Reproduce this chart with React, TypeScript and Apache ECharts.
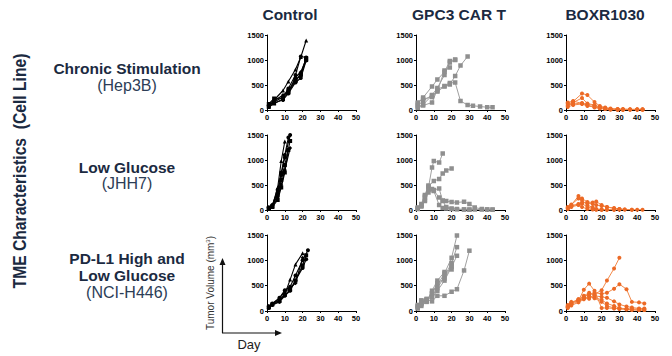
import React, { useEffect, useRef } from "react";
import * as echarts from "echarts";

// ---------- data: [day, tumor volume mm3] per mouse ----------
const hep3bControl = [
  [[1, 80], [4, 200], [9, 390], [12, 570], [16, 810], [19, 1060], [22, 1390]],
  [[1, 100], [4, 160], [9, 260], [12, 430], [16, 700], [19, 1070], [22, 1050]],
  [[1, 60], [4, 130], [9, 220], [12, 350], [16, 580], [19, 720], [22, 1040]],
  [[1, 90], [4, 180], [9, 300], [12, 370], [16, 650], [19, 760], [22, 1020]],
  [[1, 70], [4, 140], [9, 200], [12, 330], [16, 550], [19, 640], [22, 990]],
  [[1, 120], [4, 230], [9, 240], [12, 380], [16, 600], [19, 700], [22, 1000]],
];
const hep3bCart = [
  [[1, 130], [4, 250], [9, 470], [12, 610], [16, 760], [19, 980], [22, 1010]],
  [[1, 90], [4, 180], [9, 300], [12, 440], [16, 700], [19, 950], [22, 1000]],
  [[1, 60], [4, 110], [9, 290], [12, 370], [16, 470], [19, 510], [22, 680], [25, 890], [29, 1070]],
  [[1, 40], [4, 90], [9, 150], [12, 410], [16, 480], [19, 540], [22, 550], [25, 180], [29, 100], [32, 85], [36, 70], [40, 55], [43, 55]],
  [[1, 150], [4, 220], [9, 260], [12, 380], [16, 790], [19, 850]],
];
const hep3bBoxr = [
  [[1, 80], [4, 170], [9, 330], [12, 300], [16, 160], [19, 80], [22, 50], [25, 30], [29, 20], [32, 20], [36, 15], [40, 15], [43, 15]],
  [[1, 130], [4, 150], [9, 240], [12, 130], [16, 100], [19, 60], [22, 40], [25, 20], [29, 15], [32, 10], [36, 10], [40, 10], [43, 10]],
  [[1, 100], [4, 120], [9, 140], [12, 110], [16, 90], [19, 50], [22, 30], [25, 15], [29, 10], [32, 10], [36, 10], [40, 10], [43, 10]],
  [[1, 60], [4, 100], [9, 120], [12, 80], [16, 60], [19, 40], [22, 20], [25, 10], [29, 5], [32, 5], [36, 5], [40, 5], [43, 5]],
  [[1, 150], [4, 180], [9, 130], [12, 100], [16, 50], [19, 30], [22, 20], [25, 10], [29, 5], [32, 5]],
];
const jhh7Control = [
  [[1, 40], [3, 80], [6, 450], [8, 980], [10, 1370]],
  [[1, 50], [3, 90], [6, 350], [8, 700], [10, 1050], [13, 1500]],
  [[1, 40], [3, 70], [6, 300], [8, 600], [10, 900], [13, 1380]],
  [[1, 30], [3, 60], [6, 250], [8, 500], [10, 800], [13, 1240]],
  [[1, 50], [3, 100], [6, 400], [8, 750], [10, 1100], [12, 1450]],
  [[1, 30], [3, 60], [6, 200], [8, 450], [10, 750], [12, 1200]],
];
const jhh7Cart = [
  [[1, 30], [3, 80], [5, 200], [7, 450], [9, 850], [10, 980], [13, 950], [15, 1130]],
  [[1, 40], [3, 100], [5, 250], [7, 470], [10, 580], [13, 620], [15, 730], [17, 790], [20, 830]],
  [[1, 50], [3, 120], [5, 300], [7, 490], [10, 400], [13, 430], [15, 180], [17, 60], [20, 30], [23, 20], [27, 10], [30, 5]],
  [[1, 30], [3, 90], [5, 280], [7, 400], [10, 390], [13, 250], [15, 190], [17, 180], [20, 160], [23, 150], [27, 165], [30, 120], [33, 50], [37, 20], [40, 10], [43, 5]],
  [[1, 20], [3, 70], [5, 180], [7, 350], [9, 420], [10, 380], [13, 100], [15, 40], [17, 30], [20, 20], [23, 15], [27, 10], [30, 10], [33, 10], [37, 10], [40, 10], [43, 10]],
];
const jhh7Boxr = [
  [[1, 40], [3, 100], [7, 280], [9, 230], [12, 160], [15, 150], [17, 170], [20, 100], [23, 60], [27, 40], [30, 20], [33, 10], [37, 5], [40, 5], [43, 5]],
  [[1, 60], [3, 110], [7, 230], [9, 200], [12, 100], [15, 50], [17, 20], [20, 10], [23, 5], [27, 5], [30, 5]],
  [[1, 30], [3, 80], [7, 120], [9, 130], [12, 60], [15, 30], [17, 10], [20, 5], [23, 5], [27, 5]],
  [[1, 50], [3, 90], [7, 110], [9, 60], [12, 20], [15, 10], [17, 5], [20, 5]],
  [[1, 20], [3, 60], [7, 100], [9, 150], [12, 140], [15, 120], [17, 100], [20, 80], [23, 60], [27, 30], [30, 20], [33, 10], [37, 5]],
];
const h446Control = [
  [[1, 80], [3, 140], [7, 220], [10, 330], [13, 620], [16, 920], [20, 1140]],
  [[1, 90], [3, 150], [7, 260], [10, 410], [13, 480], [16, 700], [20, 1000], [23, 1200]],
  [[1, 70], [3, 130], [7, 200], [10, 320], [13, 420], [16, 600], [20, 900], [22, 1100]],
  [[1, 100], [3, 140], [7, 250], [10, 380], [13, 450], [16, 550], [20, 1050]],
  [[1, 60], [3, 120], [7, 180], [10, 300], [13, 400], [16, 600], [20, 850], [22, 1020]],
];
const h446Cart = [
  [[1, 80], [3, 150], [6, 220], [9, 340], [12, 510], [16, 740], [20, 1050], [23, 1490]],
  [[1, 60], [3, 130], [6, 200], [9, 300], [12, 450], [16, 680], [20, 950], [23, 1260]],
  [[1, 100], [3, 200], [6, 240], [9, 270], [12, 400], [16, 600], [20, 870], [23, 1090]],
  [[1, 120], [3, 210], [6, 230], [9, 190], [12, 300], [16, 300], [20, 380], [23, 430], [27, 800], [30, 1190]],
  [[1, 50], [3, 100], [6, 180], [9, 400], [12, 600], [16, 770], [20, 820]],
  [[1, 90], [3, 170], [6, 210], [9, 350], [12, 550], [16, 640], [20, 900]],
];
const h446Boxr = [
  [[1, 80], [3, 130], [7, 200], [10, 250], [13, 240], [16, 330], [20, 410], [23, 600], [27, 840], [30, 1050]],
  [[1, 60], [3, 150], [7, 230], [10, 280], [13, 330], [16, 360], [20, 340], [23, 360], [27, 440], [30, 530], [34, 430], [37, 180], [41, 170], [44, 150]],
  [[1, 100], [3, 170], [7, 200], [10, 420], [13, 540], [16, 400], [20, 60], [23, 60], [27, 50], [30, 50], [34, 40], [37, 40], [41, 40], [44, 40]],
  [[1, 90], [3, 160], [7, 230], [10, 300], [13, 360], [16, 300], [20, 280], [23, 260], [27, 190], [30, 130], [34, 90], [37, 70], [41, 50], [44, 50]],
  [[1, 120], [3, 180], [7, 210], [10, 260], [13, 280], [16, 270], [20, 220], [23, 150], [27, 100], [30, 60], [34, 40], [37, 30], [41, 20], [44, 20]],
  [[1, 70], [3, 110], [7, 170], [10, 230], [13, 300], [16, 250], [20, 180], [23, 100], [27, 60], [30, 40], [34, 30], [37, 20], [41, 20], [44, 20]],
];

const columnTitles = ["Control", "GPC3 CAR T", "BOXR1030"];
const rowTitles = [["Chronic Stimulation"], ["Low Glucose"], ["PD-L1 High and", "Low Glucose"]];
const rowSubtitles = ["(Hep3B)", "(JHH7)", "(NCI-H446)"];
const xTicks = { min: 0, max: 50, interval: 10 };
const yTicks = { min: 0, max: 1500, interval: 500 };

const panels = [
  [hep3bControl, hep3bCart, hep3bBoxr],
  [jhh7Control, jhh7Cart, jhh7Boxr],
  [h446Control, h446Cart, h446Boxr],
];

const NAVY = "#1b2a41";
const FONT = "'Liberation Sans', Arial, sans-serif";
const colLeft = [267, 416, 566];
const rowTop = [35, 135, 235];
const rowH = [75, 75, 76];
const PW = 89;
const controlSymbols = ["triangle", "circle", "rect", "diamond", "circle", "rect"];

const mkLabel = () => ({
  fontSize: 7.5, fontWeight: "bold", color: "#000", margin: 3, fontFamily: FONT,
  formatter: (v: number) => String(v),
});
const mkAxisCommon = () => ({
  axisLine: { show: true, onZero: false, lineStyle: { color: "#000", width: 1 } },
  axisTick: { show: true, length: 2, lineStyle: { color: "#000", width: 1 } },
  axisLabel: mkLabel(),
  splitLine: { show: false },
});

export default function App() {
  const ref = useRef<HTMLDivElement>(null);
  useEffect(() => {
    if (!ref.current) return;
    const chart = echarts.init(ref.current, null, { renderer: "svg" });
    const grid: any[] = [];
    const xAxis: any[] = [];
    const yAxis: any[] = [];
    const series: any[] = [];
    let gi = 0;
    for (let r = 0; r < 3; r++) {
      for (let c = 0; c < 3; c++) {
        grid.push({ left: colLeft[c], top: rowTop[r], width: PW, height: rowH[r] });
        xAxis.push({ gridIndex: gi, type: "value", ...xTicks, ...mkAxisCommon() });
        yAxis.push({ gridIndex: gi, type: "value", ...yTicks, ...mkAxisCommon() });
        panels[r][c].forEach((mouse, mi) => {
          let lineColor = "#000", markColor = "#000", symbol = controlSymbols[mi % controlSymbols.length], size = 4, lw = 1.1;
          if (c === 1) { lineColor = "#a0a0a0"; markColor = "#8f8f8f"; symbol = "rect"; size = 4.5; lw = 1; }
          if (c === 2) { lineColor = "#f3894a"; markColor = "#ec6a26"; symbol = "circle"; size = 4; lw = 1; }
          series.push({
            type: "line", xAxisIndex: gi, yAxisIndex: gi, data: mouse, symbol, symbolSize: size,
            lineStyle: { color: lineColor, width: lw }, itemStyle: { color: markColor }, silent: true,
          });
        });
        gi++;
      }
    }
    const graphic: any[] = [];
    const titleX = [290, 459, 605];
    columnTitles.forEach((t, i) =>
      graphic.push({ type: "text", x: titleX[i], y: 14, style: { text: t, fill: NAVY, font: `bold 15.5px ${FONT}`, align: "center", verticalAlign: "middle" } })
    );
    const rowY = [[68], [167], [258, 275]];
    const subY = [85, 183, 292];
    rowTitles.forEach((lines, r) => {
      lines.forEach((ln, k) =>
        graphic.push({ type: "text", x: 127, y: rowY[r][k], style: { text: ln, fill: NAVY, font: `bold 15.5px ${FONT}`, align: "center", verticalAlign: "middle" } })
      );
      graphic.push({ type: "text", x: 127, y: subY[r], style: { text: rowSubtitles[r], fill: "#2c3d56", font: `16px ${FONT}`, align: "center", verticalAlign: "middle" } });
    });
    graphic.push({
      type: "text", x: 20, y: 171, rotation: Math.PI / 2, scaleX: 0.87,
      style: { text: "TME Characteristics  (Cell Line)", fill: NAVY, font: `bold 18px ${FONT}`, align: "center", verticalAlign: "middle" },
    });
    graphic.push({
      type: "text", x: 210, y: 283, rotation: Math.PI / 2,
      style: {
        text: "Tumor Volume (mm{s|3})", fill: "#333", font: `10px ${FONT}`, align: "center", verticalAlign: "middle",
        rich: { s: { fontSize: 6, verticalAlign: "top", fill: "#333", padding: [0, 0, 5, 0] } },
      },
    });
    graphic.push({ type: "line", shape: { x1: 222.5, y1: 333, x2: 222.5, y2: 264 }, style: { stroke: "#111", lineWidth: 1.2 } });
    graphic.push({ type: "polygon", shape: { points: [[222.5, 258], [219.5, 265], [225.5, 265]] }, style: { fill: "#111" } });
    graphic.push({ type: "line", shape: { x1: 222, y1: 333, x2: 276, y2: 333 }, style: { stroke: "#111", lineWidth: 1.2 } });
    graphic.push({ type: "polygon", shape: { points: [[282, 333], [275, 330], [275, 336]] }, style: { fill: "#111" } });
    graphic.push({ type: "text", x: 249, y: 344, style: { text: "Day", fill: "#222", font: `13px ${FONT}`, align: "center", verticalAlign: "middle" } });

    chart.setOption({ animation: false, grid, xAxis, yAxis, series, graphic });
    return () => chart.dispose();
  }, []);
  return <div ref={ref} style={{ position: "fixed", left: 0, top: 0, width: 672, height: 356, background: "#fff" }} />;
}
